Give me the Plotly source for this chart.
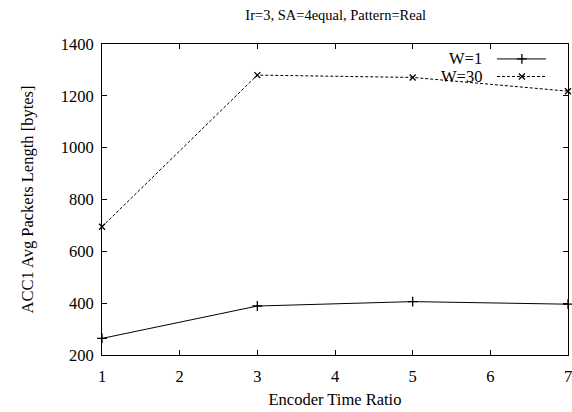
import plotly.graph_objects as go

x_ratio = [1, 3, 5, 7]
w1_vals = [264, 389, 406, 396]
w30_vals = [695, 1280, 1271, 1218]
series_names = ["W=1", "W=30"]
title_text = "Ir=3, SA=4equal, Pattern=Real"
x_title = "Encoder Time Ratio"
y_title = "ACC1 Avg Packets Length [bytes]"
x_ticks = [1, 2, 3, 4, 5, 6, 7]
y_ticks = [200, 400, 600, 800, 1000, 1200, 1400]

FONT = "Liberation Serif, Times New Roman, serif"
FS = 16.5

fig = go.Figure()
fig.add_trace(go.Scatter(
    x=x_ratio, y=w1_vals, mode="lines+markers", name=series_names[0],
    line=dict(color="black", width=1),
    marker=dict(symbol="cross-thin", size=7, line=dict(color="black", width=1.3)),
    showlegend=False, cliponaxis=False))
fig.add_trace(go.Scatter(
    x=x_ratio, y=w30_vals, mode="lines+markers", name=series_names[1],
    line=dict(color="black", width=1, dash="3px,2px"),
    marker=dict(symbol="x-thin", size=6, line=dict(color="black", width=1.3)),
    showlegend=False, cliponaxis=False))

# custom gnuplot-like legend (text left, sample right)
leg_y = [0.952, 0.8955]
for i, (nm, dash, sym, ms) in enumerate(zip(series_names, ["solid", "3px,2px"],
                                             ["cross-thin", "x-thin"], [7, 6])):
    fig.add_annotation(x=0.8197, y=leg_y[i], xref="paper", yref="paper", text=nm,
                       showarrow=False, xanchor="right", yanchor="middle",
                       font=dict(family=FONT, size=FS, color="black"))
    fig.add_trace(go.Scatter(
        x=[0.8476, 0.9528], y=[leg_y[i], leg_y[i]], xaxis="x2", yaxis="y2",
        mode="lines", line=dict(color="black", width=1, dash=dash),
        showlegend=False, hoverinfo="skip"))
    fig.add_trace(go.Scatter(
        x=[0.901], y=[leg_y[i]], xaxis="x2", yaxis="y2", mode="markers",
        marker=dict(symbol=sym, size=ms, line=dict(color="black", width=1.3)),
        showlegend=False, hoverinfo="skip"))

axis_common = dict(showline=True, linecolor="black", linewidth=1, mirror="ticks",
                   ticks="inside", ticklen=5, tickcolor="black", showgrid=False,
                   zeroline=False, automargin=False, ticklabeloverflow="allow",
                   tickfont=dict(family=FONT, size=FS, color="black"))

fig.update_layout(
    width=572, height=412,
    margin=dict(l=102, r=4, t=44, b=57),
    paper_bgcolor="white", plot_bgcolor="white",
    title=dict(text=title_text, x=0.587, xanchor="center", xref="container",
               y=0.9636, yanchor="middle", yref="container",
               font=dict(family=FONT, size=14.5, color="black")),
    xaxis=dict(range=[1, 7], tickvals=x_ticks, ticklabelstandoff=6,
               title=dict(text=x_title, font=dict(family=FONT, size=FS, color="black"), standoff=8),
               **axis_common),
    yaxis=dict(range=[200, 1400], tickvals=y_ticks, ticklabelstandoff=4,
               title=dict(text=y_title, font=dict(family=FONT, size=FS, color="black"), standoff=22),
               **axis_common),
    xaxis2=dict(range=[0, 1], overlaying="x", visible=False),
    yaxis2=dict(range=[0, 1], overlaying="y", visible=False),
    showlegend=False,
)

fig.write_html("out.html", config={"displayModeBar": False},
               post_script="document.body.style.margin='0';")
